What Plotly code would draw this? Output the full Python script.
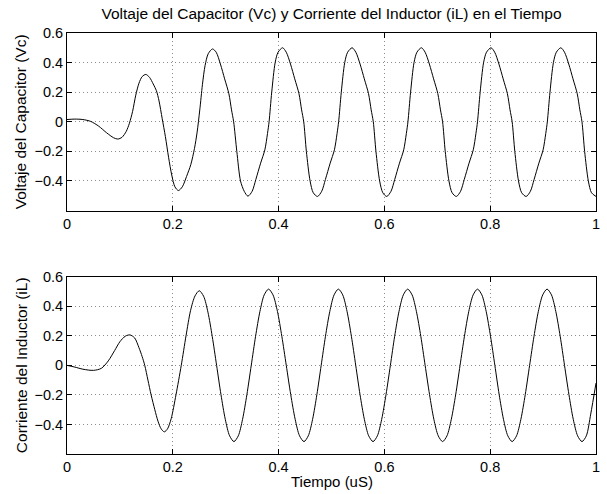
import plotly.graph_objects as go

# ---------------- data ----------------
x_ticks = [0, 0.2, 0.4, 0.6, 0.8, 1]
x_tick_labels = ["0", "0.2", "0.4", "0.6", "0.8", "1"]
y_ticks = [-0.4, -0.2, 0, 0.2, 0.4, 0.6]
y_tick_labels = ["\u22120.4", "\u22120.2", "0", "0.2", "0.4", "0.6"]

# Capacitor voltage Vc
t_vc = [
    0.000, 0.015, 0.030, 0.045, 0.060, 0.075, 0.088, 0.096, 0.104, 0.112,
    0.118, 0.124, 0.130, 0.136, 0.142, 0.149, 0.156, 0.163, 0.169, 0.174,
    0.180, 0.186, 0.192, 0.198, 0.204, 0.2106, 0.218, 0.226, 0.234, 0.241,
    0.246, 0.251, 0.256, 0.261, 0.267, 0.275, 0.282, 0.290, 0.298, 0.306,
    0.311, 0.315, 0.321, 0.328, 0.335, 0.342,
    0.350, 0.357, 0.366, 0.374, 0.379, 0.382, 0.387, 0.3935, 0.399, 0.4075,
    0.4145, 0.4225, 0.4305, 0.4385, 0.4435, 0.4475, 0.4525, 0.4595, 0.4655, 0.4735,
    0.4815, 0.4885, 0.4975, 0.5055, 0.5105, 0.5135, 0.5185, 0.525, 0.5305, 0.539,
    0.546, 0.554, 0.562, 0.570, 0.575, 0.579, 0.584, 0.591, 0.597, 0.6045,
    0.6125, 0.6195, 0.6285, 0.6365, 0.6415, 0.6445, 0.6495, 0.656, 0.6615, 0.670,
    0.677, 0.685, 0.693, 0.701, 0.706, 0.710, 0.715, 0.722, 0.728, 0.736,
    0.744, 0.751, 0.760, 0.768, 0.773, 0.776, 0.781, 0.7875, 0.793, 0.8015,
    0.8085, 0.8165, 0.8245, 0.8325, 0.8375, 0.8415, 0.8465, 0.8535, 0.8595, 0.868,
    0.876, 0.883, 0.892, 0.900, 0.905, 0.908, 0.913, 0.9195, 0.925, 0.9335,
    0.9405, 0.9485, 0.9565, 0.9645, 0.9695, 0.9735, 0.9785, 0.9855, 0.9915, 1.000,
]
vc = [
    0.015, 0.018, 0.015, 0.002, -0.030, -0.075, -0.108, -0.117, -0.105, -0.065,
    -0.010, 0.070, 0.180, 0.260, 0.305, 0.320, 0.300, 0.255, 0.210, 0.140,
    0.020, -0.100, -0.240, -0.360, -0.440, -0.465, -0.440, -0.370, -0.290, -0.180,
    -0.070, 0.080, 0.250, 0.380, 0.460, 0.492, 0.470, 0.390, 0.290, 0.190,
    0.080, 0.000, -0.200, -0.400, -0.470, -0.503,
    -0.47, -0.39, -0.28, -0.19, -0.08, 0.00, 0.20, 0.40, 0.47, 0.50,
    0.47, 0.39, 0.29, 0.19, 0.08, 0.00, -0.20, -0.40, -0.48, -0.505,
    -0.47, -0.39, -0.28, -0.19, -0.08, 0.00, 0.20, 0.40, 0.47, 0.50,
    0.47, 0.39, 0.29, 0.19, 0.08, 0.00, -0.20, -0.40, -0.48, -0.505,
    -0.47, -0.39, -0.28, -0.19, -0.08, 0.00, 0.20, 0.40, 0.47, 0.50,
    0.47, 0.39, 0.29, 0.19, 0.08, 0.00, -0.20, -0.40, -0.48, -0.505,
    -0.47, -0.39, -0.28, -0.19, -0.08, 0.00, 0.20, 0.40, 0.47, 0.50,
    0.47, 0.39, 0.29, 0.19, 0.08, 0.00, -0.20, -0.40, -0.48, -0.505,
    -0.47, -0.39, -0.28, -0.19, -0.08, 0.00, 0.20, 0.40, 0.47, 0.50,
    0.47, 0.39, 0.29, 0.19, 0.08, 0.00, -0.20, -0.40, -0.48, -0.505,
]

# Inductor current iL
t_il = [
    0.000, 0.015, 0.030, 0.050, 0.065, 0.078, 0.090, 0.100, 0.110, 0.119,
    0.128, 0.136, 0.142, 0.147, 0.153, 0.159, 0.166, 0.172, 0.178, 0.184,
    0.190, 0.197, 0.206, 0.216, 0.225, 0.2335, 0.242, 0.250,
    0.2582, 0.2664, 0.2746, 0.2828, 0.2910, 0.2992, 0.3074, 0.3156,
    0.3238, 0.3319, 0.3401, 0.3483, 0.3565, 0.3647, 0.3728, 0.381,
    0.3894, 0.3978, 0.4061, 0.4145, 0.4229, 0.4313, 0.4396, 0.448,
    0.4561, 0.4643, 0.4724, 0.4805, 0.4886, 0.4968, 0.5049, 0.513,
    0.5212, 0.5294, 0.5376, 0.5458, 0.5539, 0.5621, 0.5703, 0.5785,
    0.5867, 0.5949, 0.6031, 0.6113, 0.6194, 0.6276, 0.6358, 0.644,
    0.6523, 0.6605, 0.6688, 0.6770, 0.6853, 0.6935, 0.7018, 0.710,
    0.7183, 0.7265, 0.7348, 0.7430, 0.7513, 0.7595, 0.7678, 0.776,
    0.7842, 0.7924, 0.8006, 0.8088, 0.8169, 0.8251, 0.8333, 0.8415,
    0.8498, 0.8580, 0.8663, 0.8745, 0.8828, 0.8910, 0.8993, 0.9075,
    0.9158, 0.9240, 0.9323, 0.9405, 0.9488, 0.9570, 0.9653, 0.9735,
    0.9817, 0.9900, 1.000,
]
il = [
    0.000, -0.012, -0.026, -0.034, -0.020, 0.030, 0.100, 0.160, 0.197, 0.206,
    0.185, 0.120, 0.060, 0.000, -0.100, -0.200, -0.300, -0.378, -0.430, -0.450,
    -0.430, -0.360, -0.200, 0.000, 0.200, 0.370, 0.470, 0.505,
    0.468, 0.360, 0.195, 0.000, -0.197, -0.365, -0.477, -0.516,
    -0.477, -0.365, -0.197, 0.000, 0.197, 0.365, 0.477, 0.516,
    0.477, 0.365, 0.197, 0.000, -0.197, -0.365, -0.477, -0.516,
    -0.477, -0.365, -0.197, 0.000, 0.197, 0.365, 0.477, 0.516,
    0.477, 0.365, 0.197, 0.000, -0.197, -0.365, -0.477, -0.516,
    -0.477, -0.365, -0.197, 0.000, 0.197, 0.365, 0.477, 0.516,
    0.477, 0.365, 0.197, 0.000, -0.197, -0.365, -0.477, -0.516,
    -0.477, -0.365, -0.197, 0.000, 0.197, 0.365, 0.477, 0.516,
    0.477, 0.365, 0.197, 0.000, -0.197, -0.365, -0.477, -0.516,
    -0.477, -0.365, -0.197, 0.000, 0.197, 0.365, 0.477, 0.516,
    0.477, 0.365, 0.197, 0.000, -0.197, -0.365, -0.477, -0.516,
    -0.477, -0.330, -0.120,
]

title_text = "Voltaje del Capacitor (Vc) y Corriente del Inductor (iL) en el Tiempo"
y1_title = "Voltaje del Capacitor (Vc)"
y2_title = "Corriente del Inductor (iL)"
x_title = "Tiempo (uS)"

# ---------------- figure ----------------
FONT = "Liberation Sans, Arial, Helvetica, sans-serif"
W, H = 607, 494
ML, MR, MT, MB = 67, 7, 33, 40
TITLE_SIZE = 15.5
TICK_SIZE = 14.5

fig = go.Figure()
line_style = dict(color="black", width=1, shape="spline", smoothing=0.8)
fig.add_trace(go.Scatter(x=t_vc, y=vc, mode="lines", line=line_style,
                         xaxis="x", yaxis="y", showlegend=False, hoverinfo="skip"))
fig.add_trace(go.Scatter(x=t_il, y=il, mode="lines", line=line_style,
                         xaxis="x2", yaxis="y2", showlegend=False, hoverinfo="skip"))

grid = dict(showgrid=True, gridcolor="#8c8c8c", griddash="1px,3px", gridwidth=1)
frame = dict(ticks="inside", ticklen=5, tickcolor="black", mirror="ticks",
             showline=True, linecolor="black", linewidth=1, zeroline=False,
             tickfont=dict(size=TICK_SIZE, color="black", family=FONT))
common_x = dict(range=[0, 1], tickvals=x_ticks, ticktext=x_tick_labels, **grid, **frame)
common_y = dict(range=[-0.6, 0.6], tickvals=y_ticks, ticktext=y_tick_labels, **grid, **frame)

plot_h = H - MT - MB
plot_w = W - ML - MR
top_lo = (H - MB - 210.5) / plot_h
bot_hi = (H - MB - 276.7) / plot_h


def px_x(px):
    return (px - ML) / plot_w


def px_y(py):
    return (H - MB - py) / plot_h


fig.update_layout(
    width=W, height=H,
    margin=dict(l=ML, r=MR, t=MT, b=MB, pad=0),
    paper_bgcolor="white", plot_bgcolor="white",
    font=dict(family=FONT, size=TITLE_SIZE, color="black"),
    title=dict(text=title_text, x=0.5, xref="paper", xanchor="center",
               y=1 - 14 / H, yref="container", yanchor="middle",
               font=dict(size=TITLE_SIZE, color="black", family=FONT)),
    xaxis=dict(domain=[0, 1], anchor="y", **common_x),
    yaxis=dict(domain=[top_lo, 1], anchor="x", **common_y),
    xaxis2=dict(domain=[0, 1], anchor="y2", **common_x),
    yaxis2=dict(domain=[0, bot_hi], anchor="x2", **common_y),
    annotations=[
        dict(text=y1_title, xref="paper", yref="paper", x=px_x(20.5), y=px_y(121.5),
             xanchor="center", yanchor="middle", textangle=-90, showarrow=False,
             font=dict(size=TITLE_SIZE, family=FONT, color="black")),
        dict(text=y2_title, xref="paper", yref="paper", x=px_x(20.5), y=px_y(365.3),
             xanchor="center", yanchor="middle", textangle=-90, showarrow=False,
             font=dict(size=TITLE_SIZE, family=FONT, color="black")),
        dict(text=x_title, xref="paper", yref="paper", x=0.5, y=px_y(481.5),
             xanchor="center", yanchor="middle", showarrow=False,
             font=dict(size=15, family=FONT, color="black")),
    ],
)

fig.write_html("out.html")
